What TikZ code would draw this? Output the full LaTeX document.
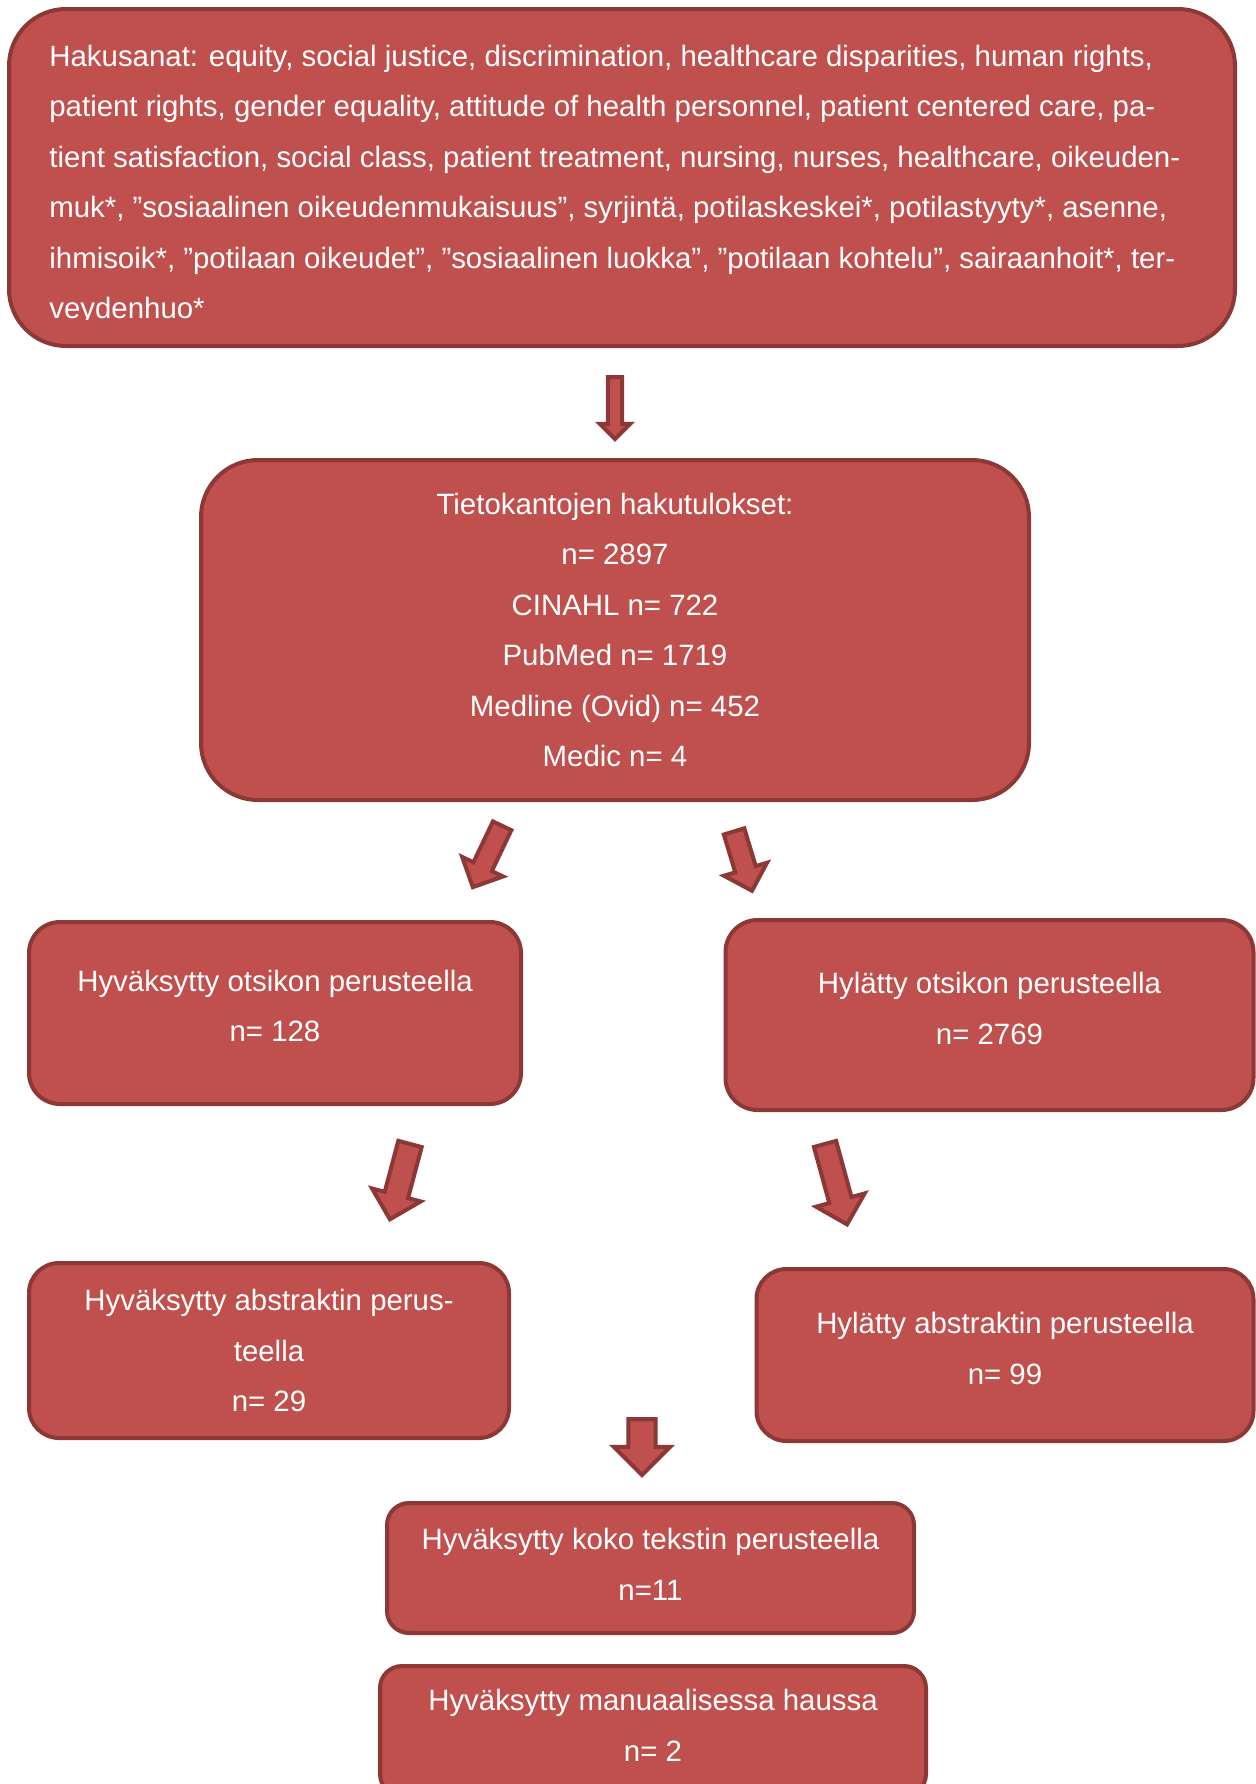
\documentclass[tikz,border=0pt]{standalone}
\usepackage{fontspec}
\setmainfont{Liberation Sans}
\usetikzlibrary{shapes.arrows}
\definecolor{punainen}{HTML}{C0504D}
\definecolor{tummapunainen}{HTML}{8C3836}
\tikzset{
  laatikko/.style={draw=tummapunainen, fill=punainen, line width=2pt, rounded corners=#1,
    text=white, align=center, inner sep=0pt, font=\fontsize{14.7}{25.25}\selectfont},
  laatikko/.default=15pt,
  teksti/.style={text=white, align=left, inner sep=0pt, font=\fontsize{14.7}{25.25}\selectfont},
  nuoli/.style={single arrow, draw=tummapunainen, fill=punainen, line width=2pt,
    inner xsep=0pt, anchor=tail},
}
\begin{document}
\begin{tikzpicture}[x=0.5pt, y=-0.5pt]
\useasboundingbox (0,0) rectangle (1256,1784);
% hakusanat
\node[laatikko=28.5pt, minimum width=613pt, minimum height=168.5pt] (haku) at (622,177.5) {};
\begin{scope}
  \clip (8,7) rectangle (1233,319);
  \node[teksti, anchor=west] (hakusanat) at (49,185) {Hakusanat: equity, social justice, discrimination, healthcare disparities, human rights,\\
  patient rights, gender equality, attitude of health personnel, patient centered care, pa-\\
  tient satisfaction, social class, patient treatment, nursing, nurses, healthcare, oikeuden-\\
  muk*, ”sosiaalinen oikeudenmukaisuus”, syrjintä, potilaskeskei*, potilastyyty*, asenne,\\
  ihmisoik*, ”potilaan oikeudet”, ”sosiaalinen luokka”, ”potilaan kohtelu”, sairaanhoit*, ter-\\
  veydenhuo*};
\end{scope}
% tulokset
\node[laatikko=28.5pt, minimum width=414pt, minimum height=170pt] (tulokset) at (615,630)
  {Tietokantojen hakutulokset:\\n= 2897\\CINAHL n= 722\\PubMed n= 1719\\Medline (Ovid) n= 452\\Medic n= 4};
\node[laatikko=15.5pt, minimum width=246pt, minimum height=91pt, text depth=7pt] (hyvotsikko) at (275,1013)
  {Hyväksytty otsikon perusteella\\n= 128};
\node[laatikko=16pt, minimum width=264pt, minimum height=95pt, text depth=6.5pt] (hylotsikko) at (989.5,1015)
  {Hylätty otsikon perusteella\\n= 2769};
\node[laatikko=15pt, minimum width=240pt, minimum height=87.5pt] (hyvabstrakti) at (269,1350.5)
  {Hyväksytty abstraktin perus-\\teella\\n= 29};
\node[laatikko=15pt, minimum width=248.5pt, minimum height=86pt, text depth=6.5pt] (hylabstrakti) at (1005,1355)
  {Hylätty abstraktin perusteella\\n= 99};
\node[laatikko=11pt, minimum width=263.5pt, minimum height=65pt, text depth=3.5pt] (kokoteksti) at (650.5,1568)
  {Hyväksytty koko tekstin perusteella\\n=11};
\node[laatikko=11pt, minimum width=273pt, minimum height=65pt, text depth=5.5pt] (manuaalinen) at (653,1731)
  {Hyväksytty manuaalisessa haussa\\n= 2};
% nuolet
\node[nuoli, minimum height=31pt, inner ysep=2.6pt, single arrow head extend=4pt, rotate=-90] (nuoli1) at (615,375) {};
\node[nuoli, minimum height=34pt, inner ysep=4.1pt, single arrow head extend=6.25pt, rotate=-115.5] (nuoli2) at (503,824) {};
\node[nuoli, minimum height=31pt, inner ysep=4.35pt, single arrow head extend=5.9pt, rotate=-73.2] (nuoli3) at (733.5,829.5) {};
\node[nuoli, minimum height=39pt, inner ysep=5.05pt, single arrow head extend=6.55pt, rotate=-104.9] (nuoli4) at (410.5,1142) {};
\node[nuoli, minimum height=41.7pt, inner ysep=4.75pt, single arrow head extend=6.85pt, rotate=-74.7] (nuoli5) at (824.5,1142) {};
\node[nuoli, minimum height=28pt, inner ysep=5.85pt, single arrow head extend=7.25pt, rotate=-90] (nuoli6) at (642,1417) {};
\end{tikzpicture}
\end{document}
